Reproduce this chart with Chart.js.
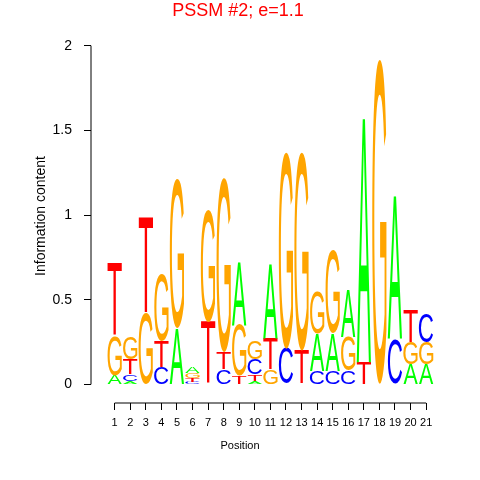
<!DOCTYPE html>
<html>
<head>
<meta charset="utf-8">
<script src="https://cdn.jsdelivr.net/npm/chart.js@4"></script>
<style>
  body { margin: 0; background: #fff; }
  canvas { display: block; }
</style>
</head>
<body>
<canvas id="logo" width="480" height="480"></canvas>
<script>
// information content per position, split by base (bits)
const positions = [1, 2, 3, 4, 5, 6, 7, 8, 9, 10, 11, 12, 13, 14, 15, 16, 17, 18, 19, 20, 21];
const heightA = [0.055, 0.02, 0, 0, 0.33, 0.035, 0, 0, 0.37, 0.02, 0.44, 0, 0, 0.22, 0.22, 0.28, 1.44, 0, 0.84, 0.12, 0.12];
const heightC = [0, 0.04, 0, 0.1, 0, 0.015, 0, 0.09, 0, 0.09, 0, 0.21, 0, 0.08, 0.08, 0.08, 0, 0, 0.27, 0, 0.17];
const heightG = [0.23, 0.135, 0.42, 0.40, 0.88, 0.03, 0.66, 1.03, 0.3, 0.11, 0.09, 1.16, 1.17, 0.25, 0.49, 0.2, 0, 1.92, 0, 0.13, 0.13];
const heightT = [0.43, 0.09, 0.57, 0.155, 0, 0.02, 0.37, 0.1, 0.05, 0.04, 0.18, 0, 0.2, 0, 0, 0, 0.13, 0, 0, 0.19, 0];
const yTicks = [0, 0.5, 1, 1.5, 2];
const yTickLabels = ['0', '0.5', '1', '1.5', '2'];

const baseColors = { A: '#00FF00', C: '#0000FF', G: '#FFA500', T: '#FF0000' };
const fontFamily = '"Liberation Sans", Arial, Helvetica, sans-serif';

// sort each column so the smallest letter sits at the bottom
const columns = positions.map((p, i) => {
  const col = [
    { base: 'A', h: heightA[i] },
    { base: 'C', h: heightC[i] },
    { base: 'G', h: heightG[i] },
    { base: 'T', h: heightT[i] }
  ];
  col.sort((a, b) => a.h - b.h);
  return col;
});

const datasets = [0, 1, 2, 3].map(rank => ({
  label: 'rank ' + rank,
  data: positions.map((p, i) => ({ x: p, y: columns[i][rank].h })),
  letters: positions.map((p, i) => columns[i][rank].base),
  backgroundColor: 'rgba(0,0,0,0)',
  borderWidth: 0,
  categoryPercentage: 1,
  barPercentage: 0.92
}));

// paint each bar as a stretched letter
const letterPlugin = {
  id: 'letters',
  afterDatasetsDraw(chart) {
    const ctx = chart.ctx;
    ctx.save();
    ctx.font = '100px ' + fontFamily;
    ctx.textAlign = 'left';
    ctx.textBaseline = 'alphabetic';
    chart.data.datasets.forEach((ds, di) => {
      const meta = chart.getDatasetMeta(di);
      meta.data.forEach((el, i) => {
        const p = el.getProps(['x', 'y', 'base', 'width'], true);
        const top = Math.min(p.y, p.base);
        const h = Math.abs(p.base - p.y);
        if (h < 0.3) return;
        const letter = ds.letters[i];
        const m = ctx.measureText(letter);
        const gw = m.actualBoundingBoxLeft + m.actualBoundingBoxRight;
        const gh = m.actualBoundingBoxAscent + m.actualBoundingBoxDescent;
        ctx.save();
        ctx.translate(p.x - p.width / 2, top);
        ctx.scale(p.width / gw, h / gh);
        ctx.fillStyle = baseColors[letter];
        ctx.fillText(letter, m.actualBoundingBoxLeft, m.actualBoundingBoxAscent);
        ctx.restore();
      });
    });
    ctx.restore();
  },
  afterDraw(chart) {
    const ctx = chart.ctx;
    const xs = chart.scales.x, ys = chart.scales.y;
    const area = chart.chartArea;
    ctx.save();
    ctx.strokeStyle = '#000';
    ctx.lineWidth = 1;
    ctx.beginPath();
    ctx.moveTo(xs.getPixelForValue(positions[0]), area.bottom);
    ctx.lineTo(xs.getPixelForValue(positions[positions.length - 1]), area.bottom);
    ctx.moveTo(area.left, ys.getPixelForValue(yTicks[0]));
    ctx.lineTo(area.left, ys.getPixelForValue(yTicks[yTicks.length - 1]));
    ctx.stroke();

    ctx.fillStyle = '#FF0000';
    ctx.font = '18px ' + fontFamily;
    ctx.textAlign = 'center';
    ctx.textBaseline = 'alphabetic';
    ctx.fillText('PSSM #2; e=1.1', 238, 15.5);

    ctx.fillStyle = '#000';
    ctx.font = '11px ' + fontFamily;
    ctx.fillText('Position', 240, 449);

    ctx.font = '14px ' + fontFamily;
    ctx.translate(45, 216);
    ctx.rotate(-Math.PI / 2);
    ctx.fillText('Information content', 0, 0);
    ctx.restore();
  }
};

new Chart(document.getElementById('logo'), {
  type: 'bar',
  data: { datasets: datasets },
  options: {
    responsive: false,
    animation: false,
    layout: { padding: { top: 29.6, right: 30.5, left: 0, bottom: 0 } },
    plugins: {
      legend: { display: false },
      tooltip: { enabled: false },
      title: { display: false }
    },
    scales: {
      x: {
        type: 'linear',
        stacked: true,
        offset: false,
        min: -0.52,
        max: 22.5,
        afterBuildTicks: s => { s.ticks = positions.map(v => ({ value: v })); },
        afterFit: s => { s.height = 77; },
        border: { display: false },
        grid: { offset: false, drawOnChartArea: false, drawTicks: true, tickLength: 7, color: '#000' },
        ticks: { color: '#000', font: { size: 11, family: fontFamily }, padding: 6, maxRotation: 0, autoSkip: false }
      },
      y: {
        stacked: true,
        min: -0.11,
        max: 2.095,
        afterBuildTicks: s => { s.ticks = yTicks.map(v => ({ value: v })); },
        afterFit: s => { s.width = 91; },
        border: { display: false },
        grid: { drawOnChartArea: false, drawTicks: true, tickLength: 7, color: '#000' },
        ticks: {
          color: '#000',
          font: { size: 14, family: fontFamily },
          padding: 12,
          callback: (value, index) => yTickLabels[index]
        }
      }
    }
  },
  plugins: [letterPlugin]
});
</script>
</body>
</html>
